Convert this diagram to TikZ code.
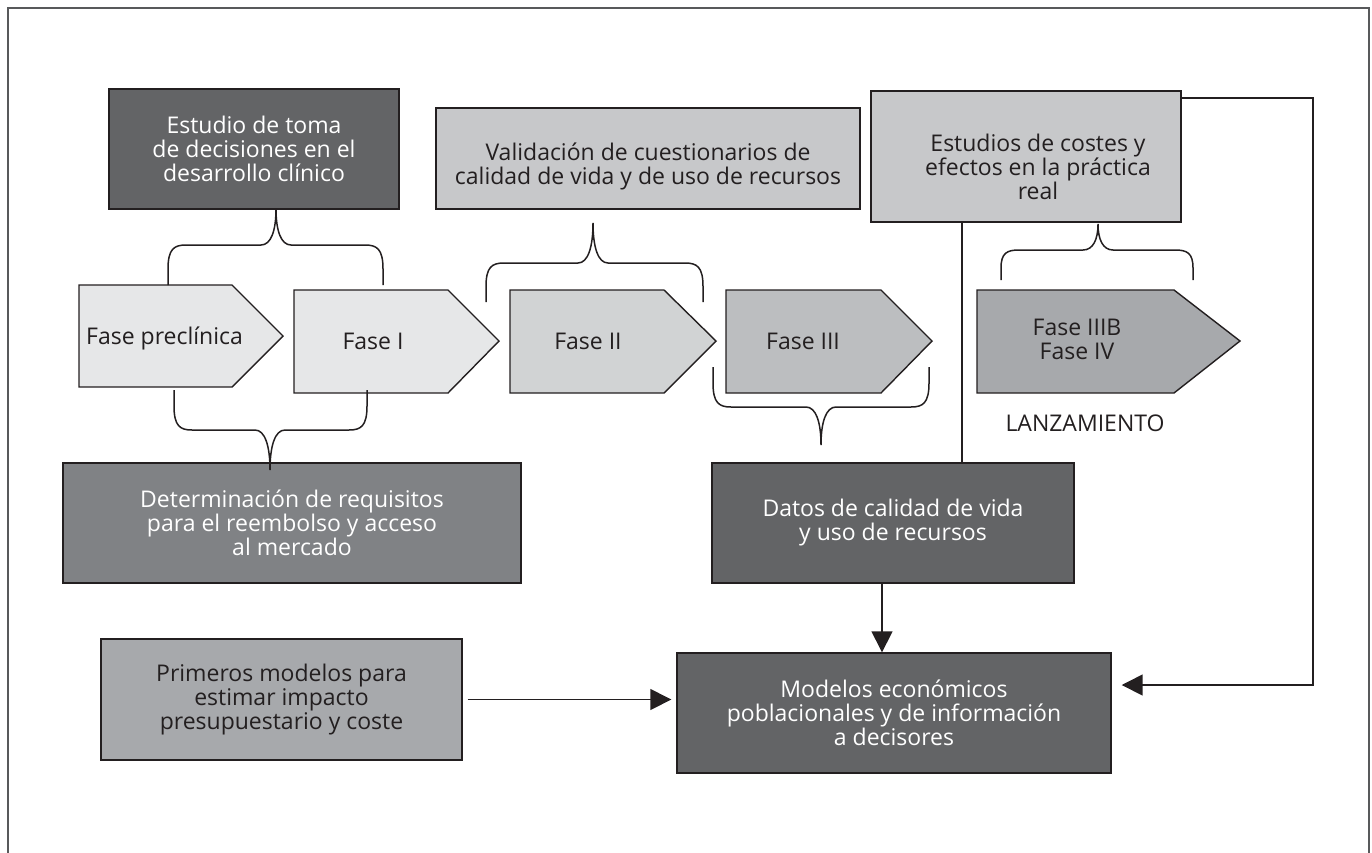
\documentclass[tikz,border=0pt]{standalone}
\usepackage{fontspec}
\setmainfont{Open Sans}
\usetikzlibrary{arrows.meta}

\definecolor{ink}{HTML}{231F20}
\definecolor{frameline}{HTML}{58595B}
\definecolor{gDark}{HTML}{636466}
\definecolor{gMidDark}{HTML}{808285}
\definecolor{gMid}{HTML}{A7A9AC}
\definecolor{gMidLight}{HTML}{BCBEC0}
\definecolor{gLight}{HTML}{C7C8CA}
\definecolor{gLighter}{HTML}{D1D3D4}
\definecolor{gLightest}{HTML}{E6E7E8}

\newcommand{\boxfont}{\fontsize{23}{24}\selectfont}

% curly brace: x-left, x-right, x-tip, y-ends, y-bar, y-tip
\newcommand{\cbrace}[6]{%
  \draw[brace] (#1,#4) -- (#1,{#4+0.4*(#5-#4)})
    .. controls (#1,{#5-0.1*(#5-#4)}) and ({#1+6},#5) .. ({#1+18},#5)
    -- ({#3-15},#5)
    .. controls ({#3-5},#5) and (#3,{#5+0.4*(#6-#5)}) .. (#3,#6)
    .. controls (#3,{#5+0.4*(#6-#5)}) and ({#3+5},#5) .. ({#3+15},#5)
    -- ({#2-18},#5)
    .. controls ({#2-6},#5) and (#2,{#5-0.1*(#5-#4)}) .. (#2,{#4+0.4*(#5-#4)})
    -- (#2,#4);}

\begin{document}
\begin{tikzpicture}[x=1pt,y=-1pt,
  box/.style={draw=ink, line width=1.4pt, rectangle, align=center,
    inner sep=0pt, font=\boxfont},
  darkbox/.style={box, fill=gDark, text=white},
  phase/.style={draw=ink, line width=1.4pt, line join=miter},
  phasetext/.style={inner sep=0pt, font=\boxfont, text=ink, align=center},
  brace/.style={draw=ink, line width=1.5pt},
  link/.style={draw=ink, line width=1.5pt},
  arrow/.style={link, -{Triangle[length=21pt,width=21pt]}}]

\useasboundingbox (0,0) rectangle (1372,852);

% outer frame (open at the foot of the page)
\draw[frameline, line width=1.5pt] (8,860) -- (8,8) -- (1369,8) -- (1369,860);

% upper boxes
\node[darkbox, minimum width=290pt, minimum height=120pt] (estudio) at (254,149)
  {Estudio de toma\\de decisiones en el\\desarrollo clínico};
\node[box, fill=gLight, minimum width=424pt, minimum height=101pt,
  label={[phasetext, yshift=-8pt]center:{Validación de cuestionarios de\\calidad de vida y de uso de recursos}}]
  (valid) at (648,158.5) {};
\node[box, fill=gLight, minimum width=310pt, minimum height=131pt,
  label={[phasetext, xshift=12pt, yshift=-10pt]center:{Estudios de costes y\\efectos en la práctica\\real}}]
  (costes) at (1026,156.5) {};

% phases
\draw[phase, fill=gLightest] (79,285) -- (232,285) -- (283,336) -- (232,387) -- (79,387) -- cycle;
\node[phasetext, anchor=base west] (fpre) at (86,344) {Fase preclínica};
\draw[phase, fill=gLightest] (294,290) -- (448,290) -- (499,341) -- (448,393) -- (294,393) -- cycle;
\node[phasetext, anchor=base] (f1) at (373,349) {Fase I};
\draw[phase, fill=gLighter] (510,290) -- (664,290) -- (716,341) -- (664,393) -- (510,393) -- cycle;
\node[phasetext, anchor=base] (f2) at (588,349) {Fase II};
\draw[phase, fill=gMidLight] (726,290) -- (881,290) -- (932,341) -- (881,393) -- (726,393) -- cycle;
\node[phasetext, anchor=base] (f3) at (803,349) {Fase III};
\draw[phase, fill=gMid] (977,290) -- (1174,290) -- (1240,341) -- (1174,393) -- (977,393) -- cycle;
\node[phasetext] (f4) at (1077,339) {Fase IIIB\\Fase IV};
\node[phasetext, anchor=base] (lanz) at (1085,431) {LANZAMIENTO};

% lower boxes
\node[box, fill=gMidDark, text=white, minimum width=458pt, minimum height=120pt] (determ) at (292,523)
  {Determinación de requisitos\\para el reembolso y acceso\\al mercado};
\node[darkbox, minimum width=362pt, minimum height=120pt] (datos) at (893,523)
  {Datos de calidad de vida\\y uso de recursos};
\node[box, fill=gMid, text=ink, minimum width=361pt, minimum height=121pt] (primeros) at (281.5,699.5)
  {Primeros modelos para\\estimar impacto\\presupuestario y coste};
\node[darkbox, minimum width=434pt, minimum height=120pt] (modelos) at (894,713)
  {Modelos económicos\\poblacionales y de información\\a decisores};

% connectors
\coordinate (vx) at (962,0);
\draw[link, line width=2.2pt] (costes.south -| vx) -- (datos.north -| vx);
\coordinate (dx) at (882,0);
\draw[arrow] (datos.south -| dx) -- (modelos.north -| dx);
\draw[arrow, shorten <=5pt, shorten >=5pt] (primeros.east) -- (primeros.east -| modelos.west);
\coordinate (rtop) at (1313,98);
\coordinate (rbot) at (1313,685);
\draw[arrow, shorten >=10pt] (costes.east |- rtop) -- (rtop) -- (rbot) -- (modelos.east |- rbot);

% braces
\cbrace{168}{383}{276}{285}{245}{209}
\cbrace{486}{703}{593}{302}{263}{223}
\cbrace{1001}{1193}{1098}{280}{250}{224}
\cbrace{174}{367}{270}{390}{430}{470}
\cbrace{713}{929}{821}{367}{407}{445}

\end{tikzpicture}
\end{document}
